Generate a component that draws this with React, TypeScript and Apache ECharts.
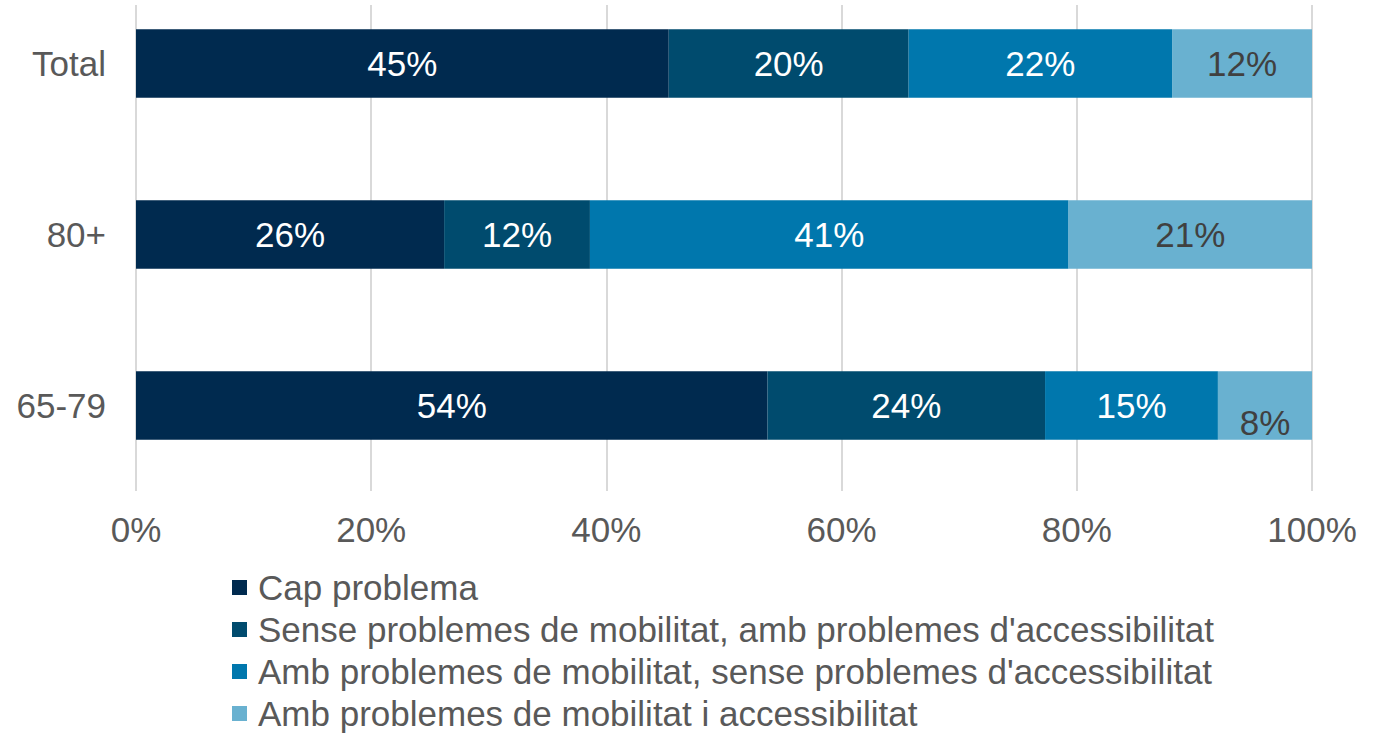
import React, { useEffect, useRef } from "react";
import * as echarts from "echarts";

const categories = ["65-79", "80+", "Total"];
const seriesNames = [
  "Cap problema",
  "Sense problemes de mobilitat, amb problemes d'accessibilitat",
  "Amb problemes de mobilitat, sense problemes d'accessibilitat",
  "Amb problemes de mobilitat i accessibilitat",
];
const capProblema = [53.7, 26.2, 45.3];
const senseMobAmbAcc = [23.6, 12.4, 20.4];
const ambMobSenseAcc = [14.7, 40.7, 22.4];
const ambMobIAcc = [8.0, 20.7, 11.9];
const xTicks = [0, 20, 40, 60, 80, 100];

const colors = ["#002A4F", "#004B6E", "#0077AD", "#69B1D0"];
const labelColors = ["#FFFFFF", "#FFFFFF", "#FFFFFF", "#404040"];
const FONT = "'Liberation Sans', Arial, sans-serif";
const FS = 35;
const SHIFT = 22; // div is shifted up by this many px

export default function App() {
  const ref = useRef<HTMLDivElement>(null);
  useEffect(() => {
    if (!ref.current) return;
    const chart = echarts.init(ref.current, null, { renderer: "svg" });
    const allData = [capProblema, senseMobAmbAcc, ambMobSenseAcc, ambMobIAcc];
    const series: any[] = allData.map((arr, i) => ({
      name: seriesNames[i],
      type: "bar",
      stack: "total",
      barWidth: "40%",
      xAxisIndex: 0,
      yAxisIndex: 0,
      z: 3,
      itemStyle: { color: colors[i] },
      label: {
        show: true,
        position: "inside",
        color: labelColors[i],
        fontSize: FS,
        fontFamily: FONT,
        formatter: (p: any) => `${Math.round(p.value)}%`,
      },
      data: arr.map((v, j) =>
        i === 3 && j === 0 ? { value: v, label: { offset: [0, 17] } } : v
      ),
    }));
    chart.setOption({
      animation: false,
      textStyle: { fontFamily: FONT },
      grid: [
        { left: 136, right: 72, top: 0, height: 513 },
        { left: 136, right: 72, top: 5 + SHIFT, height: 513 - 5 - SHIFT },
      ],
      xAxis: [
        {
          type: "value",
          gridIndex: 0,
          min: 0,
          max: 100,
          interval: 20,
          axisLabel: {
            fontSize: FS,
            color: "#595959",
            fontFamily: FONT,
            margin: 21,
            formatter: (v: number) => (xTicks.includes(v) ? `${v}%` : ""),
          },
          axisLine: { show: false },
          axisTick: { show: false },
          splitLine: { show: false },
        },
        {
          type: "value",
          gridIndex: 1,
          min: 0,
          max: 100,
          interval: 20,
          axisLabel: { show: false },
          axisLine: { show: false },
          axisTick: { show: false },
          splitLine: { show: true, lineStyle: { color: "#D9D9D9", width: 2 } },
          z: 0,
        },
      ],
      yAxis: [
        {
          type: "category",
          gridIndex: 0,
          data: categories,
          axisLabel: { fontSize: FS, color: "#595959", fontFamily: FONT, margin: 30 },
          axisLine: { show: false },
          axisTick: { show: false },
        },
        {
          type: "category",
          gridIndex: 1,
          data: categories,
          show: false,
        },
      ],
      legend: {
        orient: "vertical",
        left: 227,
        top: 587,
        itemWidth: 15,
        itemHeight: 15,
        itemGap: 7,
        icon: "rect",
        textStyle: {
          fontSize: FS,
          color: "#595959",
          fontFamily: FONT,
          padding: [0, 0, 0, 6],
        },
        data: seriesNames,
      },
      series,
    });
    return () => chart.dispose();
  }, []);
  return (
    <div
      ref={ref}
      style={{
        position: "fixed",
        left: 0,
        top: -SHIFT,
        width: 1384,
        height: 744 + SHIFT,
        background: "#fff",
      }}
    />
  );
}
